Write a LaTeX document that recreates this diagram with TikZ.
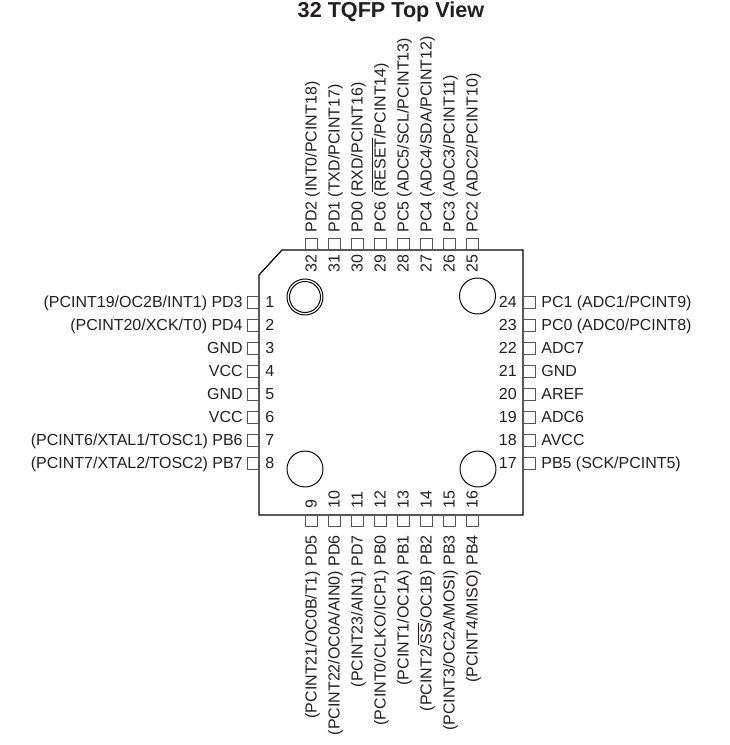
\documentclass[tikz,border=0pt]{standalone}
\usepackage{fontspec}
\setmainfont{Liberation Sans}
\definecolor{inkgray}{HTML}{231F20}
\definecolor{pingray}{HTML}{555555}
\tikzset{
  pinbox/.style={draw=pingray,line width=0.4pt,minimum size=6.8pt,inner sep=0pt},
  pinnum/.style={inner sep=0pt,text=inkgray,yshift=-0.5pt,font=\fontsize{9.1}{11}\selectfont},
  pinname/.style={pinnum},
  upnum/.style={inner sep=0pt,text=inkgray,xshift=0.5pt,rotate=90,font=\fontsize{9.1}{11}\selectfont},
  upname/.style={upnum},
  hole/.style={draw=black,line width=0.55pt}
}
\begin{document}
\begin{tikzpicture}[x=0.02cm,y=0.02cm]
\useasboundingbox (0,0) rectangle (730,-745);
\node [inner sep=0pt,text=inkgray,font=\fontsize{12.3}{15}\selectfont\bfseries] (title) at (391,-12) {32 TQFP Top View};
% package outline
\draw [black,line width=0.7pt] (282,-250) -- (523,-250) -- (523,-515) -- (259,-515) -- (259,-275) -- cycle;
\draw [hole] (305,-297) circle (18);
\draw [hole] (305,-297) circle (15.5);
\draw [hole] (477.5,-296) circle (18);
\draw [hole] (305,-469) circle (18);
\draw [hole] (478,-469) circle (18);
% left side
\node [pinbox] (pin1) at (253,-302) {};
\node [pinbox] (pin2) at (253,-325) {};
\node [pinbox] (pin3) at (253,-348) {};
\node [pinbox] (pin4) at (253,-371) {};
\node [pinbox] (pin5) at (253,-394) {};
\node [pinbox] (pin6) at (253,-417) {};
\node [pinbox] (pin7) at (253,-440) {};
\node [pinbox] (pin8) at (253,-463) {};
\node [pinnum,anchor=mid west] (num1) at (265,-302) {1};
\node [pinnum,anchor=mid west] (num2) at (265,-325) {2};
\node [pinnum,anchor=mid west] (num3) at (265,-348) {3};
\node [pinnum,anchor=mid west] (num4) at (265,-371) {4};
\node [pinnum,anchor=mid west] (num5) at (265,-394) {5};
\node [pinnum,anchor=mid west] (num6) at (265,-417) {6};
\node [pinnum,anchor=mid west] (num7) at (265,-440) {7};
\node [pinnum,anchor=mid west] (num8) at (265,-463) {8};
\node [pinname,anchor=mid east] (name1) at (243,-302) {(PCINT19/OC2B/INT1) PD3};
\node [pinname,anchor=mid east] (name2) at (243,-325) {(PCINT20/XCK/T0) PD4};
\node [pinname,anchor=mid east] (name3) at (243,-348) {GND};
\node [pinname,anchor=mid east] (name4) at (243,-371) {VCC};
\node [pinname,anchor=mid east] (name5) at (243,-394) {GND};
\node [pinname,anchor=mid east] (name6) at (243,-417) {VCC};
\node [pinname,anchor=mid east] (name7) at (243,-440) {(PCINT6/XTAL1/TOSC1) PB6};
\node [pinname,anchor=mid east] (name8) at (243,-463) {(PCINT7/XTAL2/TOSC2) PB7};
% right side
\node [pinbox] (pin24) at (529,-302) {};
\node [pinbox] (pin23) at (529,-325) {};
\node [pinbox] (pin22) at (529,-348) {};
\node [pinbox] (pin21) at (529,-371) {};
\node [pinbox] (pin20) at (529,-394) {};
\node [pinbox] (pin19) at (529,-417) {};
\node [pinbox] (pin18) at (529,-440) {};
\node [pinbox] (pin17) at (529,-463) {};
\node [pinnum,anchor=mid east] (num24) at (517,-302) {24};
\node [pinnum,anchor=mid east] (num23) at (517,-325) {23};
\node [pinnum,anchor=mid east] (num22) at (517,-348) {22};
\node [pinnum,anchor=mid east] (num21) at (517,-371) {21};
\node [pinnum,anchor=mid east] (num20) at (517,-394) {20};
\node [pinnum,anchor=mid east] (num19) at (517,-417) {19};
\node [pinnum,anchor=mid east] (num18) at (517,-440) {18};
\node [pinnum,anchor=mid east] (num17) at (517,-463) {17};
\node [pinname,anchor=mid west] (name24) at (541,-302) {PC1 (ADC1/PCINT9)};
\node [pinname,anchor=mid west] (name23) at (541,-325) {PC0 (ADC0/PCINT8)};
\node [pinname,anchor=mid west] (name22) at (541,-348) {ADC7};
\node [pinname,anchor=mid west] (name21) at (541,-371) {GND};
\node [pinname,anchor=mid west] (name20) at (541,-394) {AREF};
\node [pinname,anchor=mid west] (name19) at (541,-417) {ADC6};
\node [pinname,anchor=mid west] (name18) at (541,-440) {AVCC};
\node [pinname,anchor=mid west] (name17) at (541,-463) {PB5 (SCK/PCINT5)};
% top side
\node [pinbox] (pin32) at (311,-244.5) {};
\node [pinbox] (pin31) at (334,-244.5) {};
\node [pinbox] (pin30) at (357,-244.5) {};
\node [pinbox] (pin29) at (380,-244.5) {};
\node [pinbox] (pin28) at (403,-244.5) {};
\node [pinbox] (pin27) at (426,-244.5) {};
\node [pinbox] (pin26) at (449,-244.5) {};
\node [pinbox] (pin25) at (472,-244.5) {};
\node [upnum,anchor=mid west] (num32) at (311,-273) {32};
\node [upnum,anchor=mid west] (num31) at (334,-273) {31};
\node [upnum,anchor=mid west] (num30) at (357,-273) {30};
\node [upnum,anchor=mid west] (num29) at (380,-273) {29};
\node [upnum,anchor=mid west] (num28) at (403,-273) {28};
\node [upnum,anchor=mid west] (num27) at (426,-273) {27};
\node [upnum,anchor=mid west] (num26) at (449,-273) {26};
\node [upnum,anchor=mid west] (num25) at (472,-273) {25};
\node [upname,anchor=mid west] (name32) at (311,-233) {PD2 (INT0/PCINT18)};
\node [upname,anchor=mid west] (name31) at (334,-233) {PD1 (TXD/PCINT17)};
\node [upname,anchor=mid west] (name30) at (357,-233) {PD0 (RXD/PCINT16)};
\node [upname,anchor=mid west] (name29) at (380,-233) {PC6 ($\overline{\mbox{RESET}}$/PCINT14)};
\node [upname,anchor=mid west] (name28) at (403,-233) {PC5 (ADC5/SCL/PCINT13)};
\node [upname,anchor=mid west] (name27) at (426,-233) {PC4 (ADC4/SDA/PCINT12)};
\node [upname,anchor=mid west] (name26) at (449,-233) {PC3 (ADC3/PCINT11)};
\node [upname,anchor=mid west] (name25) at (472,-233) {PC2 (ADC2/PCINT10)};
% bottom side
\node [pinbox] (pin9) at (311,-520.5) {};
\node [pinbox] (pin10) at (334,-520.5) {};
\node [pinbox] (pin11) at (357,-520.5) {};
\node [pinbox] (pin12) at (380,-520.5) {};
\node [pinbox] (pin13) at (403,-520.5) {};
\node [pinbox] (pin14) at (426,-520.5) {};
\node [pinbox] (pin15) at (449,-520.5) {};
\node [pinbox] (pin16) at (472,-520.5) {};
\node [upnum,anchor=mid west] (num9) at (311,-509) {9};
\node [upnum,anchor=mid west] (num10) at (334,-509) {10};
\node [upnum,anchor=mid west] (num11) at (357,-509) {11};
\node [upnum,anchor=mid west] (num12) at (380,-509) {12};
\node [upnum,anchor=mid west] (num13) at (403,-509) {13};
\node [upnum,anchor=mid west] (num14) at (426,-509) {14};
\node [upnum,anchor=mid west] (num15) at (449,-509) {15};
\node [upnum,anchor=mid west] (num16) at (472,-509) {16};
\node [upname,anchor=mid east] (name9) at (311,-535) {(PCINT21/OC0B/T1) PD5};
\node [upname,anchor=mid east] (name10) at (334,-535) {(PCINT22/OC0A/AIN0) PD6};
\node [upname,anchor=mid east] (name11) at (357,-535) {(PCINT23/AIN1) PD7};
\node [upname,anchor=mid east] (name12) at (380,-535) {(PCINT0/CLKO/ICP1) PB0};
\node [upname,anchor=mid east] (name13) at (403,-535) {(PCINT1/OC1A) PB1};
\node [upname,anchor=mid east] (name14) at (426,-535) {(PCINT2/$\overline{\mbox{SS}}$/OC1B) PB2};
\node [upname,anchor=mid east] (name15) at (449,-535) {(PCINT3/OC2A/MOSI) PB3};
\node [upname,anchor=mid east] (name16) at (472,-535) {(PCINT4/MISO) PB4};
\end{tikzpicture}
\end{document}
